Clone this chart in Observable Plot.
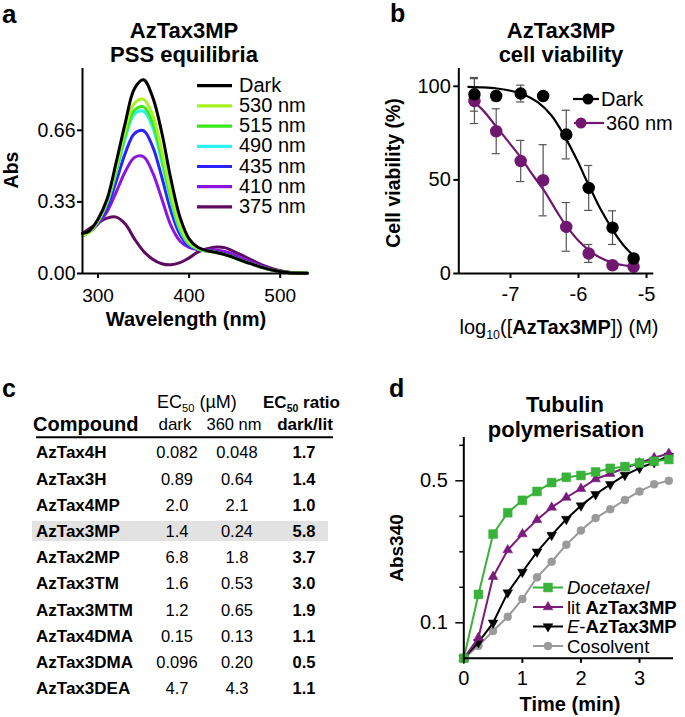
<!DOCTYPE html>
<html><head><meta charset="utf-8">
<script src="https://cdn.jsdelivr.net/npm/d3@7"></script>
<script src="https://cdn.jsdelivr.net/npm/@observablehq/plot@0.6"></script>
<style>
html,body{margin:0;padding:0;background:#fff;}
#fig{position:relative;width:685px;height:717px;overflow:hidden;background:#fff;font-family:"Liberation Sans",Arial,Helvetica,sans-serif;}
</style></head><body><div id="fig"></div>
<script>
// ---------- Panel a: PSS spectra ----------
const wavelengths = [283,290,300,310,320,330,340,350,360,370,380,390,400,410,420,430,440,450,460,470,480,490,500,510,520,530];
const absDark = [0.185,0.195,0.25,0.343,0.513,0.696,0.852,0.893,0.813,0.65,0.436,0.26,0.16,0.12,0.105,0.097,0.086,0.072,0.056,0.042,0.028,0.017,0.009,0.004,0.002,0.001];
const abs530 = [0.175,0.19,0.243,0.335,0.49,0.665,0.785,0.803,0.73,0.565,0.37,0.22,0.142,0.115,0.104,0.097,0.086,0.072,0.056,0.042,0.028,0.017,0.009,0.004,0.002,0.001];
const abs515 = [0.175,0.19,0.241,0.33,0.475,0.64,0.752,0.768,0.695,0.535,0.35,0.21,0.138,0.113,0.104,0.097,0.086,0.072,0.056,0.042,0.028,0.017,0.009,0.004,0.002,0.001];
const abs490 = [0.175,0.19,0.24,0.325,0.465,0.625,0.735,0.748,0.675,0.515,0.335,0.2,0.135,0.112,0.104,0.097,0.086,0.072,0.056,0.042,0.028,0.017,0.009,0.004,0.002,0.001];
const abs435 = [0.175,0.19,0.235,0.305,0.425,0.555,0.645,0.658,0.585,0.445,0.29,0.18,0.128,0.11,0.104,0.099,0.089,0.075,0.058,0.043,0.029,0.018,0.009,0.004,0.002,0.001];
const abs410 = [0.175,0.19,0.228,0.285,0.375,0.47,0.535,0.538,0.465,0.345,0.222,0.15,0.12,0.11,0.108,0.108,0.1,0.085,0.067,0.05,0.034,0.02,0.01,0.005,0.002,0.001];
const abs375 = [0.184,0.205,0.233,0.255,0.26,0.228,0.16,0.103,0.066,0.045,0.04,0.05,0.072,0.1,0.114,0.122,0.118,0.1,0.08,0.06,0.04,0.025,0.013,0.006,0.002,0.001];
const spectraNames = ["Dark","530 nm","515 nm","490 nm","435 nm","410 nm","375 nm"];
const spectraColors = ["#000000","#a6f21e","#3ae81c","#2ef2f2","#2a22ff","#8a14e0","#5e0a5e"];
const spectraValues = [absDark, abs530, abs515, abs490, abs435, abs410, abs375];
const absTicks = [0, 0.33, 0.66];
const wlTicks = [300, 400, 500];

// ---------- Panel b: cell viability ----------
const logConc = [-7.53,-7.21,-6.85,-6.52,-6.18,-5.85,-5.5,-5.19];
const viabDark = [95.7,94.8,96.1,94.8,74.2,45.7,24.5,8.0];
const errDark = [9,2.5,4.5,1,13,12,9,1.5];
const viab360 = [92.1,76,60.1,49.8,24.9,10.7,4.4,3.6];
const err360 = [12,12,11,19,13,4.8,1,1];
const fitDarkX = [-7.62,-7.4,-7.2,-7.0,-6.8,-6.6,-6.4,-6.2,-6.0,-5.9,-5.8,-5.7,-5.6,-5.5,-5.4,-5.3,-5.19];
const fitDarkY = [99.7,99.4,98.8,97.6,95.5,91.5,84.5,73,59,51,43.5,36,29.5,23.5,18,13.5,9.5];
const fit360X = [-7.6,-7.4,-7.2,-7.0,-6.85,-6.7,-6.6,-6.5,-6.4,-6.3,-6.2,-6.0,-5.85,-5.7,-5.5,-5.3,-5.19];
const fit360Y = [93.5,87,78,69,62,54,49,44,38,32,26.5,17.5,12.5,8.8,5.7,4.2,3.6];
const viabTicks = [0, 50, 100];
const concTicks = [-7, -6, -5];

// ---------- Panel c: table ----------
const compounds = ["AzTax4H","AzTax3H","AzTax4MP","AzTax3MP","AzTax2MP","AzTax3TM","AzTax3MTM","AzTax4DMA","AzTax3DMA","AzTax3DEA"];
const ec50Dark = ["0.082","0.89","2.0","1.4","6.8","1.6","1.2","0.15","0.096","4.7"];
const ec50Lit = ["0.048","0.64","2.1","0.24","1.8","0.53","0.65","0.13","0.20","4.3"];
const ec50Ratio = ["1.7","1.4","1.0","5.8","3.7","3.0","1.9","1.1","0.5","1.1"];
const highlighted = "AzTax3MP";

// ---------- Panel d: tubulin polymerisation ----------
const timeMin = [0,0.25,0.5,0.75,1,1.25,1.5,1.75,2,2.25,2.5,2.75,3,3.25,3.5];
const docetaxel = [0,0.18,0.35,0.41,0.445,0.47,0.495,0.51,0.515,0.525,0.535,0.54,0.55,0.555,0.56];
const litAz = [0,0.058,0.23,0.305,0.35,0.39,0.425,0.453,0.478,0.505,0.52,0.536,0.55,0.565,0.577];
const eAz = [0,0.045,0.10,0.185,0.243,0.30,0.347,0.392,0.43,0.462,0.49,0.516,0.536,0.552,0.57];
const cosolvent = [0,0.035,0.077,0.117,0.167,0.228,0.272,0.32,0.36,0.395,0.42,0.446,0.47,0.49,0.50];
const tubMajorTicks = [0.1, 0.5];
const tubMinorTicks = [0.2, 0.3, 0.4, 0.6];
const timeTicks = [0, 1, 2, 3];

// ======================================================
const FONT = '"Liberation Sans", Arial, Helvetica, sans-serif';
const fig = document.getElementById("fig");
const baseStyle = {fontFamily: FONT, fontSize: "19px", background: "transparent", color: "#000", overflow: "visible"};
function place(svg, left, top) {
  svg.style.position = "absolute";
  svg.style.left = left + "px";
  svg.style.top = top + "px";
  svg.style.maxWidth = "none";
  fig.appendChild(svg);
}
// inverted triangle symbol
const triDown = {
  draw(context, size) {
    const s3 = Math.sqrt(3);
    const y = -Math.sqrt(size / (s3 * 3));
    context.moveTo(0, -y * 2);
    context.lineTo(-s3 * y, y);
    context.lineTo(s3 * y, y);
    context.closePath();
  }
};

// ---------- Plot a ----------
const rowsA = spectraNames.flatMap((name, k) => wavelengths.map((w, i) => ({w, v: spectraValues[k][i], name})));
const drawOrderA = [6,5,4,3,2,1,0];
const plotA = Plot.plot({
  width: 340, height: 340,
  marginLeft: 82, marginRight: 33, marginTop: 68, marginBottom: 67,
  style: baseStyle,
  x: {domain: [283, 530]},
  y: {domain: [0, 0.945]},
  marks: [
    ...drawOrderA.map(k => Plot.line(rowsA.filter(r => r.name === spectraNames[k]),
      {x: "w", y: "v", stroke: spectraColors[k], strokeWidth: 3, curve: "catmull-rom"})),
    Plot.ruleY([0], {strokeWidth: 2}),
    Plot.ruleX([283], {strokeWidth: 2}),
    Plot.axisX({ticks: wlTicks, tickSize: 5, tickPadding: 10, strokeWidth: 2, label: null, fontSize: 19}),
    Plot.axisY({ticks: absTicks, tickFormat: d => d.toFixed(2), tickSize: 5, tickPadding: 2, strokeWidth: 2, label: null, fontSize: 19.5})
  ]
});
place(plotA, 0, 0);

// ---------- Plot b ----------
const ptsDark = logConc.map((x, i) => ({x, y: viabDark[i], e: errDark[i]}));
const pts360 = logConc.map((x, i) => ({x, y: viab360[i], e: err360[i]}));
const curveDark = fitDarkX.map((x, i) => ({x, y: fitDarkY[i]}));
const curve360 = fit360X.map((x, i) => ({x, y: fit360Y[i]}));
const capHalf = 0.06;
const purpleB = "#701870";
const errColor = "#555";
function errMarks(pts) {
  return [
    Plot.ruleX(pts, {x: "x", y1: d => d.y - d.e, y2: d => d.y + d.e, stroke: errColor, strokeWidth: 1.2}),
    Plot.ruleY(pts, {y: d => d.y + d.e, x1: d => d.x - capHalf, x2: d => d.x + capHalf, stroke: errColor, strokeWidth: 1.2}),
    Plot.ruleY(pts, {y: d => d.y - d.e, x1: d => d.x - capHalf, x2: d => d.x + capHalf, stroke: errColor, strokeWidth: 1.2})
  ];
}
const plotB = Plot.plot({
  width: 345, height: 340,
  marginLeft: 118.3, marginRight: 31.7, marginTop: 68, marginBottom: 67,
  style: baseStyle,
  x: {domain: [-7.76, -4.893]},
  y: {domain: [0, 109.5]},
  marks: [
    ...errMarks(pts360),
    ...errMarks(ptsDark),
    Plot.line(curve360, {x: "x", y: "y", stroke: purpleB, strokeWidth: 2.2, curve: "catmull-rom"}),
    Plot.line(curveDark, {x: "x", y: "y", stroke: "#000", strokeWidth: 2.2, curve: "catmull-rom"}),
    Plot.dot(pts360, {x: "x", y: "y", r: 5.5, fill: purpleB, stroke: purpleB}),
    Plot.dot(ptsDark, {x: "x", y: "y", r: 5.5, fill: "#000", stroke: "#000"}),
    Plot.ruleY([0], {strokeWidth: 2}),
    Plot.ruleX([-7.76], {strokeWidth: 2}),
    Plot.axisX({ticks: concTicks, tickFormat: d => String(d), tickSize: 5, tickPadding: 8, strokeWidth: 2, label: null, fontSize: 20}),
    Plot.axisY({ticks: viabTicks, tickFormat: d => String(d), tickSize: 5, tickPadding: 3, strokeWidth: 2, label: null, fontSize: 20})
  ]
});
place(plotB, 340, 0);

// ---------- Plot d ----------
const tubSeries = [
  {name: "Cosolvent", values: cosolvent, color: "#9a9a9a", symbol: "circle", r: 4},
  {name: "E", values: eAz, color: "#000000", symbol: triDown, r: 3.6},
  {name: "lit", values: litAz, color: "#7a1a7a", symbol: "triangle", r: 3.6},
  {name: "Docetaxel", values: docetaxel, color: "#39b239", symbol: "square", r: 5}
];
const plotD = Plot.plot({
  width: 345, height: 377,
  marginLeft: 123.3, marginRight: 12, marginTop: 97, marginBottom: 59.2,
  style: baseStyle,
  x: {domain: [0, 3.58]},
  y: {domain: [0, 0.622]},
  marks: [
    ...tubSeries.flatMap(s => {
      const rows = timeMin.map((t, i) => ({t, v: s.values[i]}));
      return [
        Plot.line(rows, {x: "t", y: "v", stroke: s.color, strokeWidth: 2}),
        Plot.dot(rows, {x: "t", y: "v", symbol: s.symbol, r: s.r, fill: s.color, stroke: s.color, strokeWidth: 0.5})
      ];
    }),
    Plot.ruleY([0], {strokeWidth: 2}),
    Plot.ruleX([0], {strokeWidth: 2}),
    Plot.axisX({ticks: timeTicks, tickFormat: d => String(d), tickSize: 5, tickPadding: 7, strokeWidth: 2, label: null, fontSize: 20}),
    Plot.axisY({ticks: tubMajorTicks, tickFormat: d => String(d), tickSize: 8, tickPadding: 8, strokeWidth: 1.5, label: null, fontSize: 20}),
    Plot.axisY({ticks: tubMinorTicks, tickFormat: () => "", tickSize: 4, tickPadding: 0, strokeWidth: 1.5, label: null})
  ]
});
place(plotD, 340, 340);

// ---------- overlay text, legends, table ----------
const ov = d3.create("svg").attr("width", 685).attr("height", 717)
  .style("position", "absolute").style("left", "0px").style("top", "0px")
  .style("font-family", FONT).style("pointer-events", "none").style("overflow", "visible");
function txt(x, y, parts, {size = 19, weight = "normal", anchor = "start", rotate = null, fill = "#000", italic = false} = {}) {
  const t = ov.append("text").attr("font-size", size).attr("font-weight", weight)
    .attr("text-anchor", anchor).attr("fill", fill).style("white-space", "pre");
  if (italic) t.attr("font-style", "italic");
  if (rotate != null) t.attr("transform", `translate(${x},${y}) rotate(${rotate})`);
  else t.attr("x", x).attr("y", y);
  if (typeof parts === "string") parts = [[parts]];
  let shift = 0;
  for (const [s, o = {}] of parts) {
    const ts = t.append("tspan").text(s);
    if (o.weight) ts.attr("font-weight", o.weight);
    if (o.italic) ts.attr("font-style", "italic");
    const target = o.sub ? size * 0.24 : 0;
    if (target !== shift) { ts.attr("dy", target - shift); shift = target; }
    if (o.sub) ts.attr("font-size", size * 0.62);
  }
  return t;
}

// panel letters
txt(2, 23, "a", {size: 26, weight: "bold"});
txt(390, 22, "b", {size: 25, weight: "bold"});
txt(2, 397, "c", {size: 25, weight: "bold"});
txt(389, 397, "d", {size: 25, weight: "bold"});

// titles
txt(184, 37.5, "AzTax3MP", {size: 22, weight: "bold", anchor: "middle"});
txt(184, 62, "PSS equilibria", {size: 22, weight: "bold", anchor: "middle"});
txt(561, 37.5, "AzTax3MP", {size: 22, weight: "bold", anchor: "middle"});
txt(561, 62, "cell viability", {size: 22, weight: "bold", anchor: "middle"});
txt(565, 412, "Tubulin", {size: 22, weight: "bold", anchor: "middle"});
txt(566, 436.5, "polymerisation", {size: 22, weight: "bold", anchor: "middle"});

// axis labels
txt(18, 170, "Abs", {size: 19.5, weight: "bold", anchor: "middle", rotate: -90});
txt(186, 326, "Wavelength (nm)", {size: 20, weight: "bold", anchor: "middle"});
txt(399.5, 173, "Cell viability (%)", {size: 19.5, weight: "bold", anchor: "middle", rotate: -90});
txt(559, 334, [["log"], ["10", {sub: true}], ["(["], ["AzTax3MP", {weight: "bold"}], ["]) (M)"]], {size: 20, anchor: "middle"});
txt(403, 548, "Abs340", {size: 19, weight: "bold", anchor: "middle", rotate: -90});
txt(570, 711, "Time (min)", {size: 20, weight: "bold", anchor: "middle"});

// legend a
spectraNames.forEach((name, i) => {
  const yb = 91.7 + i * 20.2;
  ov.append("line").attr("x1", 197).attr("x2", 232).attr("y1", yb - 6).attr("y2", yb - 6)
    .attr("stroke", spectraColors[i]).attr("stroke-width", 3.2);
  txt(239, yb, name, {size: 20});
});

// legend b
[[ "Dark", "#000", 99, 588, 573, 599, 601 ], [ "360 nm", purpleB, 123, 581, 574, 604, 606 ]].forEach(([name, col, yc, cx, x1, x2, tx]) => {
  ov.append("line").attr("x1", x1).attr("x2", x2).attr("y1", yc).attr("y2", yc).attr("stroke", col).attr("stroke-width", 2.2);
  ov.append("circle").attr("cx", cx).attr("cy", yc).attr("r", 5.5).attr("fill", col);
  txt(tx, yc + 7, name, {size: 20});
});

// legend d
const legD = [
  {s: tubSeries[3], parts: [["Docetaxel", {italic: true}]]},
  {s: tubSeries[2], parts: [["lit "], ["AzTax3MP", {weight: "bold"}]]},
  {s: tubSeries[1], parts: [["E", {italic: true}], ["-"], ["AzTax3MP", {weight: "bold"}]]},
  {s: tubSeries[0], parts: [["Cosolvent"]]}
];
const d3sym = {circle: d3.symbolCircle, triangle: d3.symbolTriangle, square: d3.symbolSquare};
legD.forEach(({s, parts}, i) => {
  const yc = 587.5 + i * 19.5;
  ov.append("line").attr("x1", 533).attr("x2", 563).attr("y1", yc).attr("y2", yc).attr("stroke", s.color).attr("stroke-width", 2);
  const symType = typeof s.symbol === "string" ? d3sym[s.symbol] : s.symbol;
  ov.append("path").attr("d", d3.symbol(symType, Math.PI * s.r * s.r)())
    .attr("transform", `translate(548,${yc})`).attr("fill", s.color).attr("stroke", s.color).attr("stroke-width", 0.5);
  txt(567, yc + 6.5, parts, {size: 18.5});
});

// table c
const nameX = 36, darkX = 177, litX = 237, ratioX = 304;
const row0 = 458.3, rowStep = 26.2;
const hi = compounds.indexOf(highlighted);
ov.append("rect").attr("x", 32).attr("y", row0 + hi * rowStep - 15.9).attr("width", 296).attr("height", 20).attr("fill", "#e2e2e2");
ov.append("line").attr("x1", 36).attr("x2", 333).attr("y1", 437.3).attr("y2", 437.3).attr("stroke", "#000").attr("stroke-width", 2);
txt(157, 408, [["EC"], ["50", {sub: true}], [" (µM)"]], {size: 18});
txt(263, 408, [["EC"], ["50", {sub: true}], [" ratio"]], {size: 17, weight: "bold"});
txt(33, 430.7, "Compound", {size: 20, weight: "bold"});
txt(175, 430, "dark", {size: 17, anchor: "middle"});
txt(234, 430, "360 nm", {size: 16.5, anchor: "middle"});
txt(305, 430, "dark/lit", {size: 17, weight: "bold", anchor: "middle"});
compounds.forEach((c, i) => {
  const yb = row0 + i * rowStep;
  txt(nameX, yb, c, {size: 17, weight: "bold"});
  txt(darkX, yb, ec50Dark[i], {size: 16.5, anchor: "middle"});
  txt(litX, yb, ec50Lit[i], {size: 16.5, anchor: "middle"});
  txt(ratioX, yb, ec50Ratio[i], {size: 16.5, weight: "bold", anchor: "middle"});
});

fig.appendChild(ov.node());
</script></body></html>
